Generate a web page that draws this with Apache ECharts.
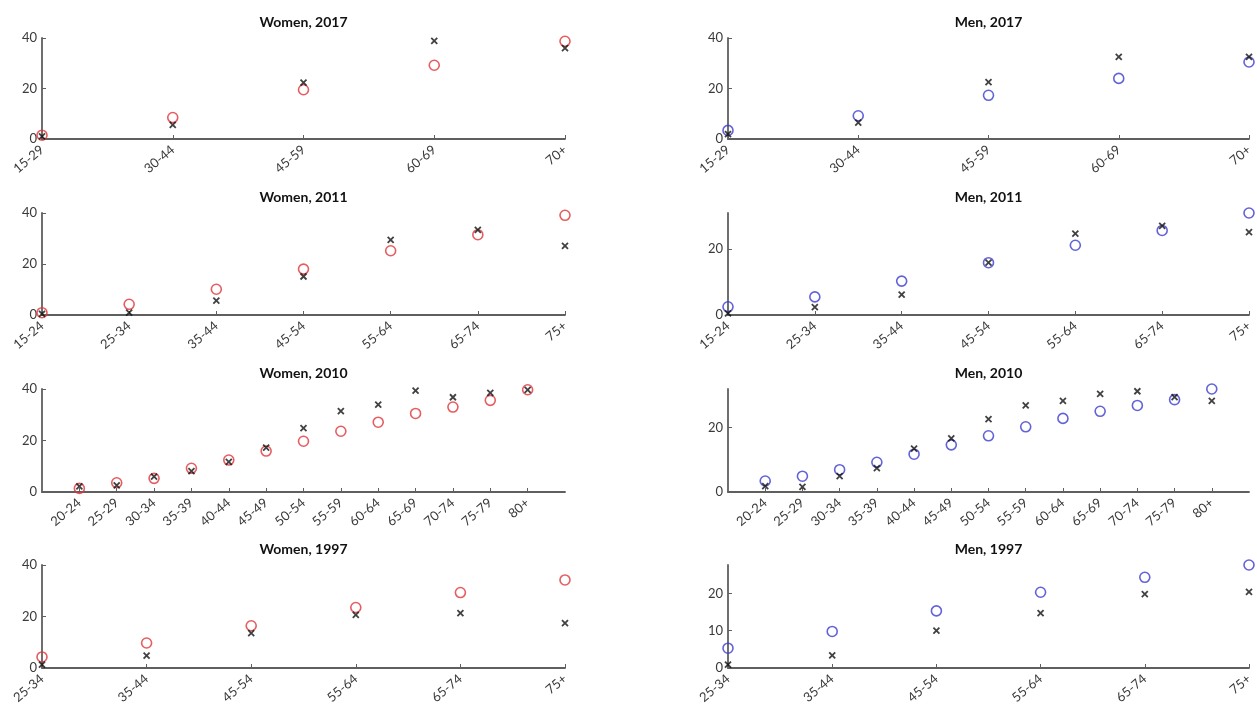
<!DOCTYPE html>
<html>
<head>
<meta charset="utf-8">
<title>Women / Men by age group</title>
<script src="https://cdn.jsdelivr.net/npm/echarts@6/dist/echarts.min.js"></script>
<style>
html, body { margin: 0; padding: 0; background: #fff; }
#main { width: 1257px; height: 712px; }
</style>
</head>
<body>
<div id="main"></div>
<script>
// age groups per survey year
var ages2017 = ['15-29', '30-44', '45-59', '60-69', '70+'];
var ages2011 = ['15-24', '25-34', '35-44', '45-54', '55-64', '65-74', '75+'];
var ages2010 = ['20-24', '25-29', '30-34', '35-39', '40-44', '45-49', '50-54',
                '55-59', '60-64', '65-69', '70-74', '75-79', '80+'];
var ages1997 = ['25-34', '35-44', '45-54', '55-64', '65-74', '75+'];

// circles (coloured) and crosses (black)
var women2017 = [1.5, 8.5, 19.5, 29.2, 38.7];
var women2017Cross = [1.0, 5.6, 22.3, 38.9, 36.0];
var men2017 = [3.4, 9.2, 17.3, 24.0, 30.5];
var men2017Cross = [1.9, 6.5, 22.5, 32.5, 32.5];

var women2011 = [0.9, 4.2, 10.1, 18.0, 25.2, 31.5, 39.1];
var women2011Cross = [0.4, 0.9, 5.6, 15.1, 29.5, 33.4, 27.1];
var men2011 = [2.5, 5.5, 10.3, 15.9, 21.2, 25.7, 31.0];
var men2011Cross = [0.5, 2.4, 6.2, 15.9, 24.7, 27.1, 25.2];

var women2010 = [1.4, 3.6, 5.3, 9.2, 12.4, 15.9, 19.7, 23.6, 27.1, 30.5, 33.0, 35.6, 39.7];
var women2010Cross = [2.2, 2.6, 6.0, 8.1, 11.7, 17.2, 24.8, 31.4, 33.9, 39.4, 36.8, 38.5, 39.7];
var men2010 = [3.4, 4.9, 6.9, 9.2, 11.7, 14.6, 17.4, 20.2, 22.8, 25.0, 26.8, 28.6, 31.9];
var men2010Cross = [1.8, 1.6, 4.9, 7.4, 13.4, 16.6, 22.6, 26.8, 28.2, 30.4, 31.2, 29.4, 28.2];

var women1997 = [4.3, 9.7, 16.4, 23.5, 29.3, 34.2];
var women1997Cross = [1.3, 4.8, 13.5, 20.6, 21.3, 17.4];
var men1997 = [5.3, 9.8, 15.3, 20.3, 24.3, 27.6];
var men1997Cross = [0.9, 3.4, 10.0, 14.7, 19.8, 20.4];

var panels = [
  { title: 'Women, 2017', ages: ages2017, circ: women2017, cross: women2017Cross, col: 0, row: 0, ymax: 40, yticks: [0, 20, 40], pad: false },
  { title: 'Men, 2017', ages: ages2017, circ: men2017, cross: men2017Cross, col: 1, row: 0, ymax: 40, yticks: [0, 20, 40], pad: false },
  { title: 'Women, 2011', ages: ages2011, circ: women2011, cross: women2011Cross, col: 0, row: 1, ymax: 40, yticks: [0, 20, 40], pad: false },
  { title: 'Men, 2011', ages: ages2011, circ: men2011, cross: men2011Cross, col: 1, row: 1, ymax: 31, yticks: [0, 20], pad: false },
  { title: 'Women, 2010', ages: ages2010, circ: women2010, cross: women2010Cross, col: 0, row: 2, ymax: 40, yticks: [0, 20, 40], pad: true },
  { title: 'Men, 2010', ages: ages2010, circ: men2010, cross: men2010Cross, col: 1, row: 2, ymax: 31.9, yticks: [0, 20], pad: true },
  { title: 'Women, 1997', ages: ages1997, circ: women1997, cross: women1997Cross, col: 0, row: 3, ymax: 40, yticks: [0, 20, 40], pad: false },
  { title: 'Men, 1997', ages: ages1997, circ: men1997, cross: men1997Cross, col: 1, row: 3, ymax: 27.6, yticks: [0, 10, 20], pad: false }
];

// layout in pixels
var colLeft = [42, 728];
var colWidth = [523, 521];
var rowTop = [38, 213, 389, 565];
var rowHeight = [101, 102, 103, 103];

var font = 'Lato, "Open Sans", sans-serif';
var axisCol = '#5f5f5f';

var grids = [], xAxes = [], yAxes = [], titles = [], series = [];

panels.forEach(function (p, i) {
  var n = p.ages.length;
  var idx = p.ages.map(function (a, k) { return k; });
  grids.push({
    left: colLeft[p.col], top: rowTop[p.row],
    width: colWidth[p.col], height: rowHeight[p.row],
    containLabel: false
  });
  titles.push({
    text: p.title,
    left: colLeft[p.col] + colWidth[p.col] / 2,
    top: rowTop[p.row] - 23,
    textAlign: 'center',
    padding: 0,
    textStyle: { fontFamily: font, fontSize: 14, fontWeight: 'bold', color: '#111' }
  });
  xAxes.push({
    type: 'value', gridIndex: i,
    min: p.pad ? -1 : 0, max: p.pad ? n : n - 1,
    splitLine: { show: false },
    axisLine: { onZero: false, lineStyle: { color: axisCol, width: 1.8 } },
    axisTick: { inside: true, length: 4, customValues: idx, lineStyle: { color: axisCol } },
    axisLabel: {
      customValues: idx, rotate: 40, margin: 9,
      fontFamily: font, fontSize: 13, color: '#3a3a3a',
      formatter: function (v) { return p.ages[v] || ''; }
    }
  });
  yAxes.push({
    type: 'value', gridIndex: i, min: 0, max: p.ymax,
    splitLine: { show: false },
    axisLine: { show: true, onZero: false, lineStyle: { color: axisCol, width: 1.8 } },
    axisTick: { inside: true, length: 4, customValues: p.yticks, lineStyle: { color: axisCol } },
    axisLabel: {
      customValues: p.yticks, margin: 5,
      fontFamily: font, fontSize: 13, color: '#3a3a3a'
    }
  });
  var circleCol = p.col === 0 ? '#e0353a' : '#3c3ccf';
  series.push({
    type: 'scatter', xAxisIndex: i, yAxisIndex: i, clip: false,
    symbol: 'circle', symbolSize: 10,
    itemStyle: { color: 'transparent', borderColor: circleCol, borderWidth: 1.6 },
    data: p.circ.map(function (v, k) { return [k, v]; })
  });
  series.push({
    type: 'scatter', xAxisIndex: i, yAxisIndex: i, clip: false,
    symbol: 'path://M0,0L10,10M10,0L0,10', symbolSize: 6,
    itemStyle: { color: 'transparent', borderColor: '#111', borderWidth: 1.8 },
    data: p.cross.map(function (v, k) { return [k, v]; })
  });
});

var myChart = echarts.init(document.getElementById('main'));
myChart.setOption({
  backgroundColor: '#fff',
  animation: false,
  title: titles,
  grid: grids,
  xAxis: xAxes,
  yAxis: yAxes,
  series: series
});
</script>
</body>
</html>
